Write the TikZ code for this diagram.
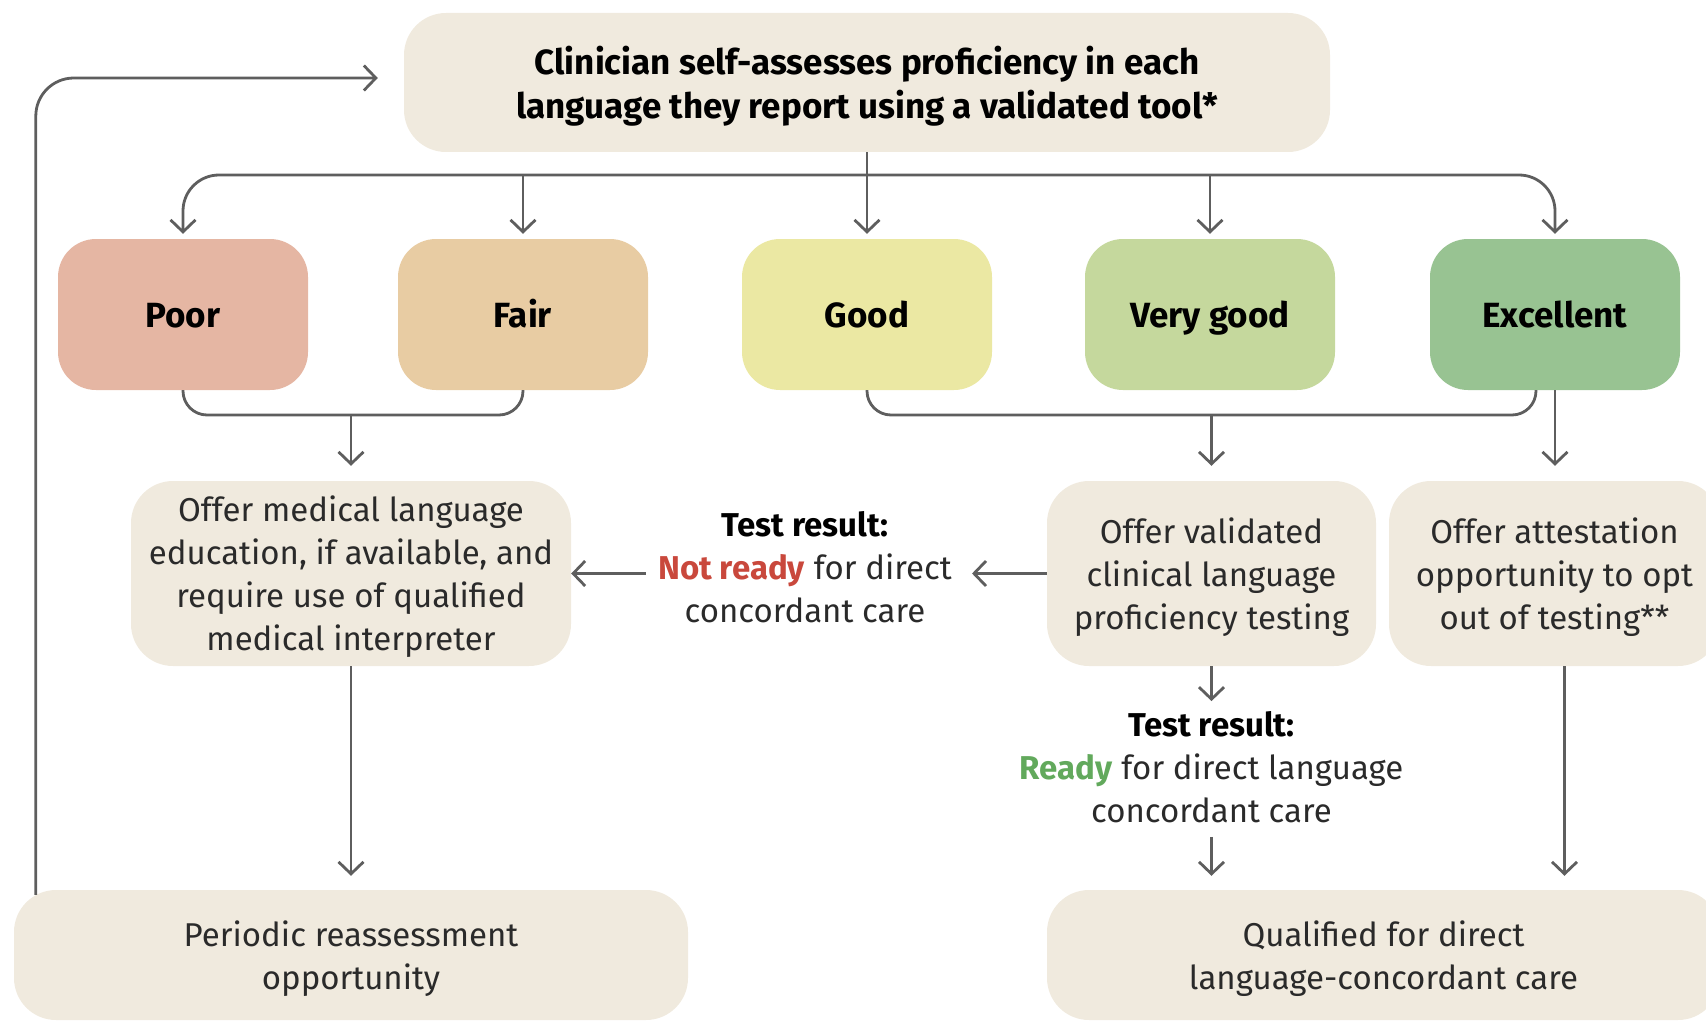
\documentclass[tikz,border=0pt]{standalone}
\usepackage{fontspec}
\setmainfont{Fira Sans}
\usetikzlibrary{arrows.meta,calc}

\definecolor{boxbg}{HTML}{F0EADE}
\definecolor{poorc}{HTML}{E5B6A3}
\definecolor{fairc}{HTML}{E8CCA3}
\definecolor{goodc}{HTML}{EBE8A3}
\definecolor{vgoodc}{HTML}{C5D89D}
\definecolor{excc}{HTML}{98C392}
\definecolor{linec}{HTML}{5E5E5E}
\definecolor{textc}{HTML}{2A2A2A}
\definecolor{notreadyc}{HTML}{C9483C}
\definecolor{readyc}{HTML}{62A95C}

\tikzset{
  level/.style={rounded corners=38pt, minimum width=250pt, minimum height=151pt,
    font=\fontsize{35}{40}\selectfont\bfseries, inner sep=0pt,
    text height=25pt, text depth=0pt},
  pale/.style={fill=boxbg, rounded corners=42pt, align=center, inner sep=0pt,
    text depth=0pt, text=textc, font=\fontsize{33}{43}\selectfont},
  note/.style={align=center, inner sep=0pt, text=textc, font=\fontsize{33}{43}\selectfont},
  conn/.style={draw=linec, line width=2.8pt},
  arr/.style={conn, -{Straight Barb[length=12pt,width=25pt,line width=2.8pt]}},
}

\begin{document}
\begin{tikzpicture}[x=1pt,y=-1pt]
\useasboundingbox (0,0) rectangle (1706,1022);
\clip (0,0) rectangle (1706,1022);

% self-assessment
\node[pale, minimum width=926pt, minimum height=139pt, text=black, font=\fontsize{35}{43.5}\selectfont\bfseries]
  (top) at (867,82.5) {Clinician self-assesses proficiency in each\\language they report using a validated tool*};

% proficiency levels
\node[level, fill=poorc]  (poor)  at (183,314.5)  {Poor};
\node[level, fill=fairc]  (fair)  at (523,314.5)  {Fair};
\node[level, fill=goodc]  (good)  at (867,314.5)  {Good};
\node[level, fill=vgoodc] (vgood) at (1210,314.5) {Very good};
\node[level, fill=excc]   (exc)   at (1555,314.5) {Excellent};

% follow-up offers
\node[pale, minimum width=440pt, minimum height=185pt] (med) at (351,573.5)
  {Offer medical language\\education, if available, and\\require use of qualified\\medical interpreter};
\node[pale, minimum width=329pt, minimum height=185pt] (valid) at (1211.5,573.5)
  {Offer validated\\clinical language\\proficiency testing};
\node[pale, minimum width=331pt, minimum height=185pt] (attest) at (1554.5,573.5)
  {Offer attestation\\opportunity to opt\\out of testing**};

% test outcomes
\node[note] (notready) at (805,567)
  {\textcolor{black}{\textbf{Test result:}}\\\textcolor{notreadyc}{\textbf{Not ready}} for direct\\concordant care};
\node[note] (ready) at (1211.5,767)
  {\textcolor{black}{\textbf{Test result:}}\\\textcolor{readyc}{\textbf{Ready}} for direct language\\concordant care};

% end states
\node[pale, minimum width=674pt, minimum height=130pt] (periodic) at (351,955)
  {Periodic reassessment\\opportunity};
\node[pale, minimum width=673pt, minimum height=130pt] (qual) at (1383.5,955)
  {Qualified for direct\\language-concordant care};

% helper points
\coordinate (bus) at (0,175);
\coordinate (merge) at (0,415);
\coordinate (excm) at ($(exc.south)+(-19,0)$);
\coordinate (attdown) at ($(attest.south)+(10,0)$);

% branching to the five levels
\draw[arr, rounded corners=36pt, shorten >=5pt] (top.south |- bus) -| (poor.north);
\draw[arr, rounded corners=36pt, shorten >=5pt] (top.south |- bus) -| (exc.north);
\draw[arr, shorten >=5pt] (top.south) -- (good.north);
\draw[arr, shorten >=5pt] (fair.north |- bus) -- (fair.north);
\draw[arr, shorten >=5pt] (vgood.north |- bus) -- (vgood.north);

% grouping of levels
\draw[conn, rounded corners=24pt] (poor.south) |- (med.north |- merge) -| (fair.south);
\draw[arr, shorten >=15pt] (med.north |- merge) -- (med.north);
\draw[conn, rounded corners=24pt] (good.south) |- (excm |- merge) -- (excm);
\draw[arr, shorten >=15pt] (valid.north |- merge) -- (valid.north);
\draw[arr, shorten >=15pt] (exc.south) -- (exc.south |- attest.north);

% testing outcomes
\draw[arr, shorten >=20pt] (valid.west) -- (notready.east |- valid.west);
\draw[arr, shorten <=12pt] (notready.west |- med.east) -- (med.east);
\draw[arr, shorten >=10pt] (valid.south) -- (ready.north);
\draw[arr, shorten <=14pt, shorten >=14pt] (ready.south) -- (ready.south |- qual.north);

% toward end states
\draw[arr, shorten >=14pt] (med.south) -- (periodic.north);
\draw[arr, shorten >=14pt] (attdown) -- (attdown |- qual.north);

% reassessment loop
\draw[arr, rounded corners=38pt, shorten >=26pt]
  ($(periodic.north west)+(22,5)$) |- ($(top.west)+(0,-4.5)$);
\end{tikzpicture}
\end{document}
